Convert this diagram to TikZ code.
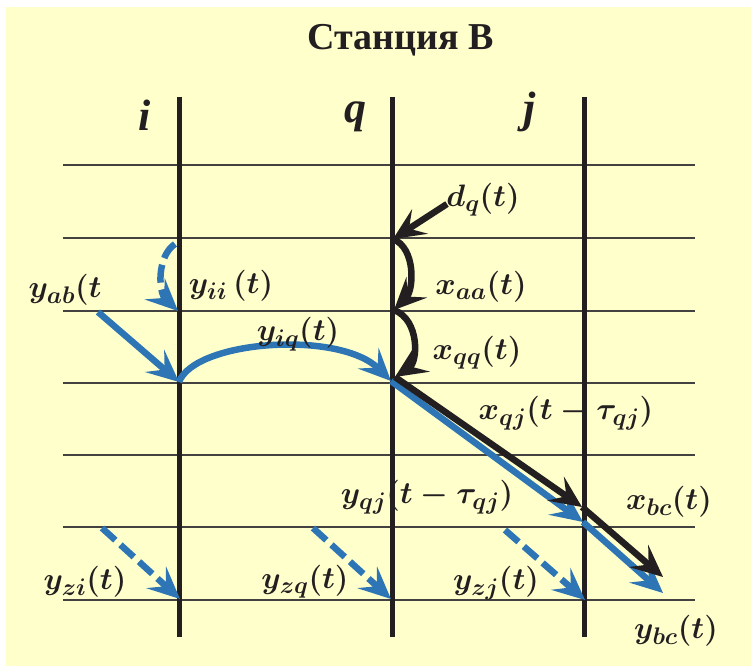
\RequirePackage{fix-cm}
\documentclass[tikz,border=0pt]{standalone}
\usepackage{amsmath,amssymb}
\usepackage{fontspec}
\usepackage{tikz}
\usepackage{xcolor}
\usetikzlibrary{arrows.meta}
\newfontfamily\timesfont{Liberation Serif}
\DeclareMathSizes{31}{31}{24}{19}
\definecolor{paleyellow}{RGB}{255,255,204}
\definecolor{inkdark}{RGB}{35,31,32}
\definecolor{flowblue}{RGB}{46,117,182}

\begin{document}
\begin{tikzpicture}[x=1pt,y=-1pt,
  every node/.style={text=inkdark},
  gridline/.style={draw=inkdark!85,line width=1.3pt},
  stationline/.style={draw=inkdark,line width=5pt},
  headtip/.style={-{Stealth[length=32pt,width=29pt,inset=13pt]}},
  blueflow/.style={draw=flowblue,line width=6.5pt,headtip},
  blackflow/.style={draw=inkdark,line width=6.5pt,headtip},
  dashflow/.style={blueflow,dash pattern=on 18pt off 7pt},
  lbl/.style={font=\fontsize{31}{35}\selectfont\boldmath,inner sep=0pt},
  stationlbl/.style={font=\timesfont\bfseries\itshape\fontsize{44}{48}\selectfont,inner sep=0pt,anchor=base}]
\useasboundingbox (0,0) rectangle (751,666);
\fill[white] (0,0) rectangle (751,666);
\fill[paleyellow] (6,7) rectangle (751,666);

% title and stations
\node[font=\timesfont\bfseries\fontsize{38}{42}\selectfont,inner sep=0pt] (title) at (401,40) {Станция B};
\node[stationlbl] (st-i) at (145,130) {i};
\node[stationlbl] (st-q) at (355,122) {q};
\node[stationlbl] (st-j) at (530,122) {j};

% time grid
\draw[gridline] (63,165) -- (695,165);
\draw[gridline] (63,238) -- (695,238);
\draw[gridline] (63,311) -- (695,311);
\draw[gridline] (63,383) -- (695,383);
\draw[gridline] (63,455) -- (695,455);
\draw[gridline] (63,527) -- (695,527);
\draw[gridline] (63,600) -- (695,600);

\draw[stationline] (179,97) -- (179,637);
\draw[stationline] (392,97) -- (392,637);
\draw[stationline] (584,97) -- (584,637);

% points on the station lines
\coordinate (i3) at (178,311);
\coordinate (i4) at (179,382);
\coordinate (i7) at (180,599);
\coordinate (q2) at (393,239);
\coordinate (q3) at (394,310);
\coordinate (q4) at (391,381);
\coordinate (qx) at (395,377);
\coordinate (q7) at (391,599);
\coordinate (jx) at (582,507);
\coordinate (jy) at (583,522);
\coordinate (j7) at (585,600);

% free ends
\coordinate (ab-start) at (98,312);
\coordinate (ii-start) at (175,244);
\coordinate (dq-start) at (447,204);
\coordinate (bc-xend) at (663,577);
\coordinate (bc-yend) at (663,593);
\coordinate (zi-start) at (102,528);
\coordinate (zq-start) at (313,528);
\coordinate (zj-start) at (505,530);

% flows
\draw[blueflow] (ab-start) -- (i4);
\draw[dashflow] (ii-start) .. controls (157,256) and (158,292) .. (i3);
\draw[blueflow] (i4) .. controls (195,340) and (340,330) .. (q4);
\draw[blackflow] (dq-start) -- (q2);
\draw[blackflow] (q2) .. controls (416,248) and (414,290) .. (q3);
\draw[blackflow] (q3) .. controls (420,320) and (418,362) .. (qx);
\draw[blueflow] (q4) -- (jy);
\draw[blueflow] (jy) -- (bc-yend);
\draw[blackflow] (qx) -- (jx);
\draw[blackflow] (jx) -- (bc-xend);
\draw[dashflow] (zi-start) -- (i7);
\draw[dashflow] (zq-start) -- (q7);
\draw[dashflow] (zj-start) -- (j7);

% labels
\node[lbl] (l-yab) at (65,290) {$y_{ab}(t$};
\node[lbl] (l-yii) at (231,286) {$y_{ii}\,(t)$};
\node[lbl] (l-yiq) at (298,334) {$y_{iq}(t)$};
\node[lbl] (l-dq) at (483,200) {$d_q(t)$};
\node[lbl] (l-xaa) at (481,287) {$x_{aa}(t)$};
\node[lbl] (l-xqq) at (477,353) {$x_{qq}(t)$};
\node[lbl] (l-xqj) at (566,413) {$x_{qj}(t-\tau_{qj})$};
\node[lbl] (l-yqj) at (427,497) {$y_{qj}(t-\tau_{qj})$};
\node[lbl] (l-xbc) at (669,502) {$x_{bc}(t)$};
\node[lbl] (l-ybc) at (676,631) {$y_{bc}(t)$};
\node[lbl] (l-yzi) at (85,582) {$y_{zi}(t)$};
\node[lbl] (l-yzq) at (305,582) {$y_{zq}(t)$};
\node[lbl] (l-yzj) at (496,583) {$y_{zj}(t)$};
\end{tikzpicture}
\end{document}
